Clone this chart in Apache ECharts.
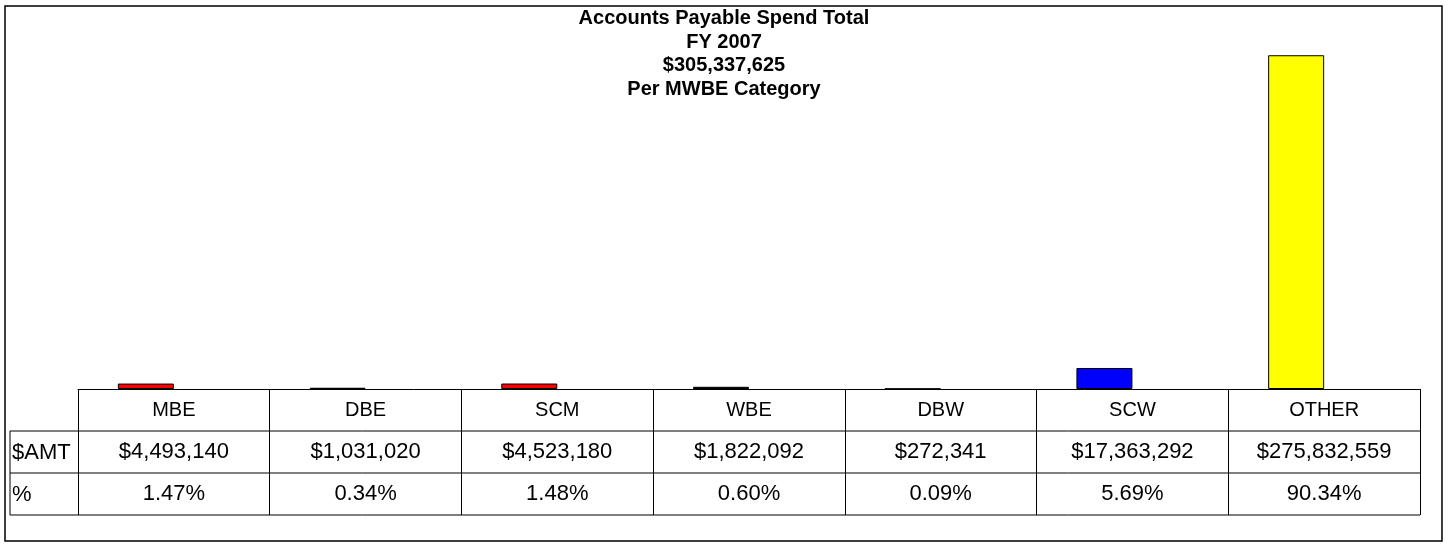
<!DOCTYPE html>
<html>
<head>
<meta charset="utf-8">
<script src="https://cdn.jsdelivr.net/npm/echarts@6/dist/echarts.min.js"></script>
<style>
  html, body { margin: 0; padding: 0; background: #fff; }
  #main { width: 1448px; height: 547px; }
</style>
</head>
<body>
<div id="main"></div>
<script>
const categories = ['MBE', 'DBE', 'SCM', 'WBE', 'DBW', 'SCW', 'OTHER'];
const amounts = [4493140, 1031020, 4523180, 1822092, 272341, 17363292, 275832559];
const percents = ['1.47%', '0.34%', '1.48%', '0.60%', '0.09%', '5.69%', '90.34%'];
const barColors = ['#FF0000', '#000000', '#FF0000', '#000000', '#808080', '#0000FF', '#FFFF00'];
const rowLabels = ['$AMT', '%'];
const titleLines = ['Accounts Payable Spend Total', 'FY 2007', '$305,337,625', 'Per MWBE Category'];

const font = '"Liberation Sans", Arial, sans-serif';
const rowH = 42;

let chart = echarts.init(document.getElementById('main'), null, { renderer: 'canvas' });

function money(v) {
  return '$' + v.toLocaleString('en-US');
}

// table lines under the axis (axis ticks give the verticals)
let graphics = [
  { type: 'rect', shape: { x: 5, y: 6, width: 1437, height: 535 }, style: { fill: 'none', stroke: '#000', lineWidth: 1.5 }, z: 0 }
];
for (let r = 1; r <= 3; r++) {
  graphics.push({ type: 'line', shape: { x1: 10, y1: 389 + r * rowH, x2: 1420, y2: 389 + r * rowH }, style: { stroke: '#000', lineWidth: 1 } });
}
graphics.push({ type: 'line', shape: { x1: 10, y1: 389 + rowH, x2: 10, y2: 389 + 3 * rowH }, style: { stroke: '#000', lineWidth: 1 } });
rowLabels.forEach((t, i) => {
  graphics.push({
    type: 'text', x: 12, y: 389 + (i + 1) * rowH + rowH / 2 + 1,
    style: { text: t, font: '22px ' + font, fill: '#000', verticalAlign: 'middle' }
  });
});

let option = {
  animation: false,
  backgroundColor: '#fff',
  title: {
    text: titleLines.join('\n'),
    left: 'center',
    top: 2,
    textStyle: { fontFamily: font, fontSize: 20, fontWeight: 'bold', color: '#000', lineHeight: 23.5 }
  },
  grid: { left: 78, right: 28, top: 26, bottom: 158 },
  xAxis: {
    type: 'category',
    data: categories,
    axisLine: { lineStyle: { color: '#000', width: 1 } },
    axisTick: { show: true, length: 3 * rowH, lineStyle: { color: '#000', width: 1 } },
    axisLabel: {
      margin: 0,
      interval: 0,
      formatter: (val, idx) => '{c|' + val + '}\n{v|' + money(amounts[idx]) + '}\n{v|' + percents[idx] + '}',
      rich: {
        c: { fontFamily: font, fontSize: 20, color: '#000', lineHeight: rowH, height: rowH },
        v: { fontFamily: font, fontSize: 22, color: '#000', lineHeight: rowH, height: rowH }
      }
    }
  },
  yAxis: {
    type: 'value',
    min: 0,
    max: 300000000,
    show: false,
    splitLine: { show: false }
  },
  series: [
    {
      type: 'bar',
      barWidth: 56,
      barGap: '0%',
      data: amounts.map((v, i) => ({ value: v, itemStyle: { color: barColors[i] } })),
      itemStyle: { borderColor: '#000', borderWidth: 1 }
    },
    {
      type: 'bar',
      barWidth: 56,
      data: categories.map(() => '-')
    }
  ],
  graphic: graphics
};

chart.setOption(option);
</script>
</body>
</html>
